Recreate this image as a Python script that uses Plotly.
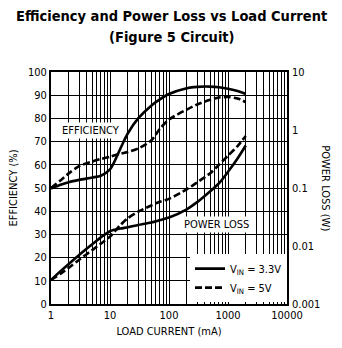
import plotly.graph_objects as go

current_ma = [1, 1.5, 2, 3, 5, 7, 10, 15, 20, 30, 50, 70, 100, 200, 300, 500, 700, 1000, 1500, 2000]

eff_33 = [49.8, 51.5, 52.5, 53.5, 54.5, 55.3, 58.0, 67.0, 73.5, 80.0, 85.5, 88.2, 90.5, 93.0, 93.6, 93.7, 93.4, 92.8, 91.7, 90.5]
eff_5 = [50.0, 53.6, 56.3, 59.4, 61.4, 62.5, 63.5, 64.8, 65.5, 67.0, 70.5, 75.5, 79.5, 83.8, 86.0, 88.0, 89.0, 89.2, 88.5, 87.0]

loss_33 = [0.0026, 0.0038, 0.0049, 0.0070, 0.0107, 0.0141, 0.0180, 0.0200, 0.0210, 0.0230, 0.0255, 0.0280, 0.031, 0.043, 0.057, 0.088, 0.12, 0.19, 0.34, 0.54]
loss_5 = [0.0026, 0.0034, 0.0042, 0.0058, 0.0085, 0.0110, 0.0145, 0.0230, 0.0300, 0.0390, 0.0500, 0.0580, 0.065, 0.095, 0.125, 0.18, 0.25, 0.36, 0.55, 0.79]

x_ticks = [1, 10, 100, 1000, 10000]
x_labels = ["1", "10", "100", "1000", "10000"]
x_minor = [m * d for d in (1, 10, 100, 1000) for m in range(2, 10)]
eff_ticks = list(range(0, 101, 10))
loss_ticks = [0.001, 0.01, 0.1, 1, 10]
loss_labels = ["0.001", "0.01", "0.1", "1", "10"]

FONT = "DejaVu Sans Condensed, Liberation Sans Narrow, sans-serif"
LW = 2.6
DASH = "7px,3px"

L, R, T, B = 49, 287, 72, 308
W, H = 342, 348


def py(ypx):
    return (B - ypx) / (B - T)


def px(xpx):
    return (xpx - L) / (R - L)


fig = go.Figure()
fig.add_trace(go.Scatter(x=current_ma, y=eff_33, mode="lines", line=dict(color="black", width=LW, shape="spline", smoothing=0.8),
                         name="V<sub>IN</sub> = 3.3V", showlegend=True))
fig.add_trace(go.Scatter(x=current_ma, y=eff_5, mode="lines", line=dict(color="black", width=LW, dash=DASH, shape="spline", smoothing=0.8),
                         name="V<sub>IN</sub> = 5V", showlegend=True))
fig.add_trace(go.Scatter(x=current_ma, y=loss_33, mode="lines", line=dict(color="black", width=LW, shape="spline", smoothing=0.8),
                         yaxis="y2", showlegend=False))
fig.add_trace(go.Scatter(x=current_ma, y=loss_5, mode="lines", line=dict(color="black", width=LW, dash=DASH, shape="spline", smoothing=0.8),
                         yaxis="y2", showlegend=False))

fig.update_layout(
    width=W, height=H,
    margin=dict(l=L, r=W - R, t=T, b=H - B),
    paper_bgcolor="white", plot_bgcolor="white",
    font=dict(family=FONT, size=11, color="black"),
    xaxis=dict(type="log", range=[0, 4], tickvals=x_ticks, ticktext=x_labels,
               showgrid=True, gridcolor="black", gridwidth=1.2,
               showline=True, linecolor="black", linewidth=1.5, mirror=True,
               ticks="inside", ticklen=4, tickcolor="black",
               minor=dict(tickvals=x_minor, showgrid=True, gridcolor="black", gridwidth=1.2,
                          ticks="inside", ticklen=4, tickcolor="black"),
               title=dict(text="LOAD CURRENT (mA)", font=dict(size=11), standoff=6),
               zeroline=False),
    yaxis=dict(range=[0, 100], tickvals=eff_ticks, showgrid=True, gridcolor="black", gridwidth=1.2,
               showline=True, linecolor="black", linewidth=2, mirror=True, ticks="",
               title=dict(text="EFFICIENCY (%)", font=dict(size=11), standoff=8),
               zeroline=False),
    yaxis2=dict(type="log", range=[-3, 1], overlaying="y", side="right",
                tickvals=loss_ticks, ticktext=loss_labels, showgrid=False, ticks="",
                ticklabelstandoff=4, zeroline=False),
    legend=dict(x=1.0, xanchor="right", y=0.008, yanchor="bottom", bgcolor="white",
                borderwidth=0, font=dict(size=11), tracegroupgap=0, itemwidth=30),
    annotations=[
        dict(text="<b>Efficiency and Power Loss vs Load Current</b>", x=px(171), y=py(15),
             xref="paper", yref="paper", showarrow=False, xanchor="center", yanchor="middle",
             font=dict(size=14.5)),
        dict(text="<b>(Figure 5 Circuit)</b>", x=px(171), y=py(36),
             xref="paper", yref="paper", showarrow=False, xanchor="center", yanchor="middle",
             font=dict(size=14.5)),
        dict(text="EFFICIENCY", x=0.67, y=74.6, xref="x", yref="y", showarrow=False,
             bgcolor="white", font=dict(size=11)),
        dict(text="POWER LOSS", x=2.81, y=34.3, xref="x", yref="y", showarrow=False,
             bgcolor="white", font=dict(size=11)),
        dict(text="POWER LOSS (W)", x=px(326), y=py(190), xref="paper", yref="paper", showarrow=False,
             textangle=90, xanchor="center", yanchor="middle", font=dict(size=11)),
    ],
)

fig.write_html("out.html")
